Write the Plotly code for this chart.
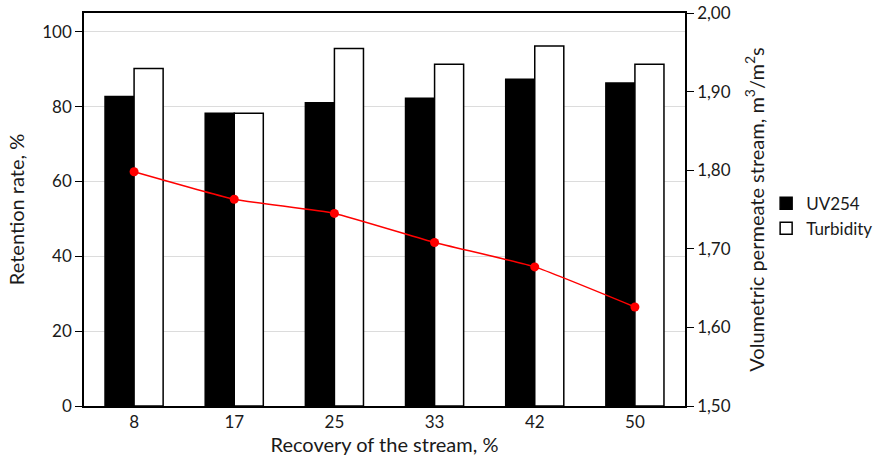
import plotly.graph_objects as go

# Recovery of the stream, %
recovery = ["8", "17", "25", "33", "42", "50"]
# Retention rate, %
uv254 = [82.7, 78.2, 81.0, 82.2, 87.3, 86.3]
turbidity = [90.2, 78.2, 95.5, 91.3, 96.2, 91.3]
# Volumetric permeate stream, m3/m2s
permeate_flow = [1.798, 1.763, 1.745, 1.708, 1.677, 1.626]

font_family = "Lato, 'Open Sans', sans-serif"

fig = go.Figure()
fig.add_trace(go.Bar(
    x=recovery, y=uv254, name="UV254",
    marker=dict(color="black", line=dict(color="black", width=1.5)),
))
fig.add_trace(go.Bar(
    x=recovery, y=turbidity, name="Turbidity",
    marker=dict(color="white", line=dict(color="black", width=1.5)),
))
fig.add_trace(go.Scatter(
    x=recovery, y=permeate_flow, yaxis="y2", mode="lines+markers",
    line=dict(color="#ff0000", width=1.5, shape="spline", smoothing=0.4),
    marker=dict(color="#ff0000", size=9), showlegend=False,
))

fig.update_layout(
    width=882, height=467,
    margin=dict(l=84, r=197, t=13, b=61, autoexpand=False),
    paper_bgcolor="white", plot_bgcolor="white",
    separators=", ",
    font=dict(family=font_family, size=17, color="#1a1a1a"),
    barmode="group", bargap=0.42, bargroupgap=0,
    xaxis=dict(
        title=dict(text="Recovery of the stream, %", standoff=2),
        showline=True, linecolor="black", linewidth=1.5, mirror=True,
        ticks="", showgrid=False, automargin=False,
    ),
    yaxis=dict(
        title=dict(text="Retention rate, %", standoff=12),
        range=[0, 105], tickvals=[0, 20, 40, 60, 80, 100],
        showline=True, linecolor="black", linewidth=1.5, mirror=True,
        ticks="outside", ticklen=7, tickcolor="black",
        showgrid=True, gridcolor="#dcdcdc", gridwidth=1, zeroline=False,
        automargin=False,
    ),
    yaxis2=dict(
        title=dict(text="Volumetric permeate stream, m<sup>3</sup>/m<sup>2</sup>s", standoff=20),
        overlaying="y", side="right", range=[1.5, 2.0],
        tickvals=[1.5, 1.6, 1.7, 1.8, 1.9, 2.0], tickformat=".2f",
        showline=True, linecolor="black", linewidth=1.5,
        ticks="outside", ticklen=7, tickcolor="black",
        showgrid=False, zeroline=False, automargin=False,
    ),
    legend=dict(
        x=1.135, y=0.483, xanchor="left", yanchor="middle",
        font=dict(size=17), itemwidth=30, tracegroupgap=0,
        bgcolor="rgba(0,0,0,0)",
    ),
)

fig.write_html("out.html")
